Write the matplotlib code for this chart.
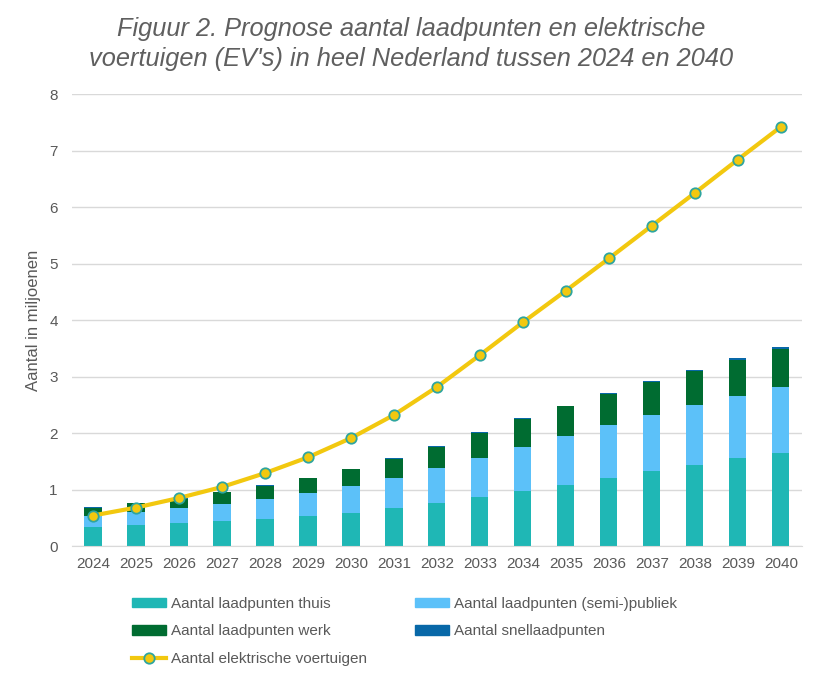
import matplotlib
matplotlib.use("Agg")
import matplotlib.pyplot as plt
import numpy as np
from matplotlib.lines import Line2D
from matplotlib.patches import Patch

plt.rcParams['font.family'] = ['Liberation Sans', 'DejaVu Sans']

years = ["2024", "2025", "2026", "2027", "2028", "2029", "2030", "2031", "2032",
         "2033", "2034", "2035", "2036", "2037", "2038", "2039", "2040"]
thuis = [0.34, 0.37, 0.40, 0.44, 0.48, 0.53, 0.59, 0.67, 0.756, 0.87, 0.98, 1.083, 1.20, 1.32, 1.43, 1.55, 1.655]
semi = [0.20, 0.24, 0.27, 0.31, 0.35, 0.41, 0.47, 0.53, 0.62, 0.695, 0.78, 0.867, 0.937, 0.995, 1.06, 1.11, 1.165]
werk = [0.14, 0.15, 0.17, 0.20, 0.24, 0.26, 0.30, 0.34, 0.38, 0.44, 0.49, 0.52, 0.56, 0.595, 0.61, 0.64, 0.67]
snel = [0.004, 0.005, 0.006, 0.007, 0.008, 0.009, 0.010, 0.011, 0.012, 0.013, 0.014, 0.016, 0.018, 0.02, 0.022, 0.025, 0.03]
ev = [0.54, 0.68, 0.85, 1.045, 1.29, 1.57, 1.91, 2.32, 2.815, 3.38, 3.96, 4.52, 5.09, 5.67, 6.25, 6.84, 7.42]

c_thuis = "#1FB7B5"
c_semi = "#5CC1F9"
c_werk = "#006C31"
c_snel = "#0868A8"
c_ev = "#F2C80F"
c_edge = "#2EA59F"

fig = plt.figure(figsize=(8.22, 6.82), dpi=100)
ax = fig.add_axes([0.087, 0.1994, 0.889, 0.6626])

x = np.arange(len(years))
w = 0.4
b1 = np.array(thuis)
b2 = b1 + np.array(semi)
b3 = b2 + np.array(werk)
ax.bar(x, thuis, w, color=c_thuis, zorder=2)
ax.bar(x, semi, w, bottom=b1, color=c_semi, zorder=2)
ax.bar(x, werk, w, bottom=b2, color=c_werk, zorder=2)
ax.bar(x, snel, w, bottom=b3, color=c_snel, zorder=2)
ax.plot(x, ev, color=c_ev, lw=3, marker='o', ms=7.5, mfc=c_ev, mec=c_edge, mew=1.3, zorder=3)

ax.set_xlim(-0.5, len(years) - 0.5)
ax.set_ylim(0, 8)
ax.set_yticks(range(0, 9))
ax.set_xticks(x)
ax.set_xticklabels(years)
ax.yaxis.grid(True, color="#D9D9D9", lw=1, zorder=0)
ax.set_axisbelow(True)
for s in ["left", "right", "top"]:
    ax.spines[s].set_visible(False)
ax.spines["bottom"].set_color("#D9D9D9")
ax.tick_params(axis='both', length=0, labelsize=11, labelcolor="#595959")
ax.tick_params(axis='x', pad=8)
ax.tick_params(axis='y', pad=10)
ax.set_ylabel("Aantal in miljoenen", fontsize=12, color="#595959", labelpad=6)

fig.text(0.5, 0.975, "Figuur 2. Prognose aantal laadpunten en elektrische\nvoertuigen (EV's) in heel Nederland tussen 2024 en 2040",
         ha='center', va='top', fontsize=18.3, style='italic', color="#5F5F5F", linespacing=1.3)

handles = [Patch(color=c_thuis), Patch(color=c_werk),
           Line2D([0], [0], color=c_ev, lw=3, marker='o', ms=7.5, mfc=c_ev, mec=c_edge, mew=1.3),
           Patch(color=c_semi), Patch(color=c_snel)]
labels = ["Aantal laadpunten thuis", "Aantal laadpunten werk", "Aantal elektrische voertuigen",
          "Aantal laadpunten (semi-)publiek", "Aantal snellaadpunten"]
leg = fig.legend(handles, labels, ncol=2, loc='upper left', bbox_to_anchor=(0.161, 0.125),
                 frameon=False, fontsize=11, handlelength=2.2, handleheight=0.6, handletextpad=0.3,
                 columnspacing=3.2, labelspacing=0.9, borderaxespad=0, borderpad=0, labelcolor="#595959")

fig.savefig("out.png", dpi=100)
